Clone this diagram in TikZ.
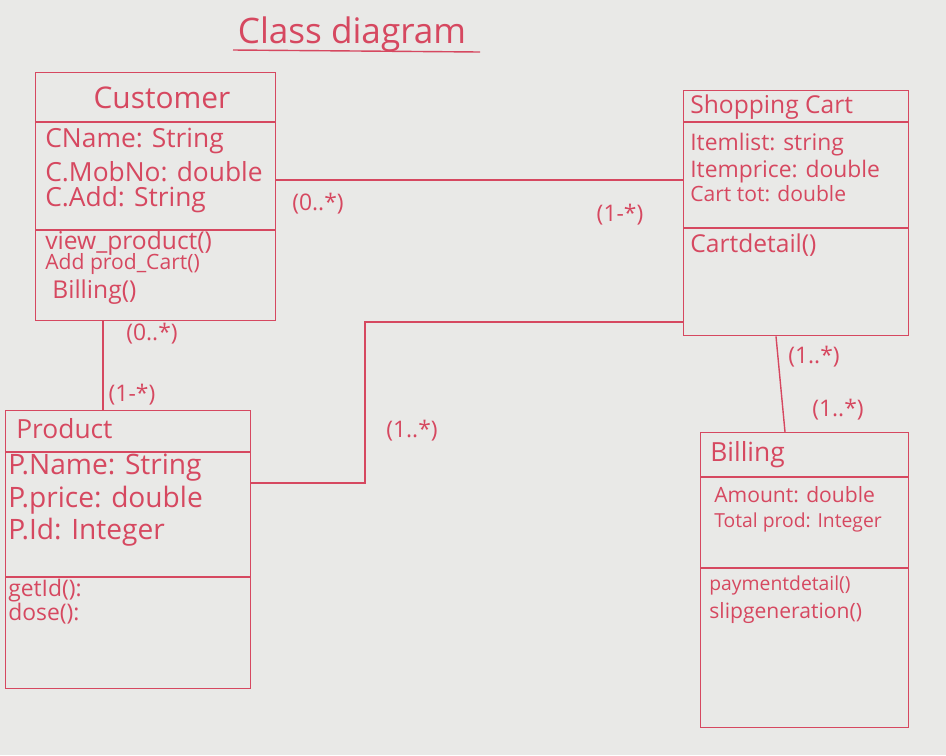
\documentclass[tikz,border=0pt]{standalone}
\usepackage{fontspec}
\setmainfont{Open Sans}
\definecolor{paper}{RGB}{233,233,231}
\definecolor{ink}{RGB}{214,72,96}
\begin{document}
\begin{tikzpicture}[x=0.02cm,y=-0.02cm,
  classbox/.style={draw=ink, line width=0.8pt, anchor=north west, inner sep=0},
  divider/.style={draw=ink, line width=0.8pt},
  wire/.style={draw=ink, line width=0.8pt},
  attr/.style={text=ink, anchor=west, inner sep=0, font=\fontsize{#1}{#1}\selectfont},
  attr/.default=13,
  mult/.style={text=ink, inner sep=0, font=\fontsize{13}{15}\selectfont}]
% paper
\fill[paper] (0,0) rectangle (946,755);
\useasboundingbox (0,0) rectangle (946,755);

% heading with underline
\node[text=ink, inner sep=0, font=\fontsize{20}{22}\selectfont] (heading) at (352,34) {Class diagram};
\coordinate (ulA) at (233,50);
\coordinate (ulB) at (480,52);
\draw[wire] (ulA) -- (ulB);

% ---- Customer ----
\node[classbox, minimum width=4.8cm, minimum height=4.96cm] (cust) at (35,72) {};
\draw[divider] (cust.west |- 0,122) -- (cust.east |- 0,122);
\draw[divider] (cust.west |- 0,230) -- (cust.east |- 0,230);
\node[text=ink, inner sep=0, font=\fontsize{17}{19}\selectfont] (custT) at (162,98) {Customer};
\node[attr=15] (c1) at (45,141) {CName: String};
\node[attr=15] (c2) at (45,172) {C.MobNo: double};
\node[attr=15] (c3) at (45,200) {C.Add: String};
\node[attr=14] (c4) at (45,243) {view\_product()};
\node[attr=12] (c5) at (45,264) {Add prod\_Cart()};
\node[attr=14] (c6) at (52,292) {Billing()};

% ---- Shopping Cart ----
\node[classbox, minimum width=4.5cm, minimum height=4.9cm] (cart) at (683,90) {};
\draw[divider] (cart.west |- 0,122) -- (cart.east |- 0,122);
\draw[divider] (cart.west |- 0,228) -- (cart.east |- 0,228);
\node[attr=14] (cartT) at (690,107) {Shopping Cart};
\node[attr=13] (s1) at (690,145) {Itemlist: string};
\node[attr=13] (s2) at (690,172) {Itemprice: double};
\node[attr=12] (s3) at (690,194) {Cart tot: double};
\node[attr=14] (s4) at (690,245) {Cartdetail()};

% ---- Product ----
\node[classbox, minimum width=4.9cm, minimum height=5.56cm] (prod) at (5,410) {};
\draw[divider] (prod.west |- 0,452) -- (prod.east |- 0,452);
\draw[divider] (prod.west |- 0,577) -- (prod.east |- 0,577);
\node[attr=15] (prodT) at (16,429) {Product};
\node[attr=16] (p1) at (8,468) {P.Name: String};
\node[attr=16] (p2) at (8,500) {P.price: double};
\node[attr=16] (p3) at (8,532) {P.Id: Integer};
\node[attr=13] (p4) at (8,591) {getId():};
\node[attr=13] (p5) at (8,614) {dose():};

% ---- Billing ----
\node[classbox, minimum width=4.16cm, minimum height=5.9cm] (bill) at (700,432) {};
\draw[divider] (bill.west |- 0,477) -- (bill.east |- 0,477);
\draw[divider] (bill.west |- 0,568) -- (bill.east |- 0,568);
\node[attr=15] (billT) at (710,455) {Billing};
\node[attr=12] (b1) at (714,495) {Amount: double};
\node[attr=11] (b2) at (714,522) {Total prod: Integer};
\node[attr=11] (b3) at (709,585) {paymentdetail()};
\node[attr=12] (b4) at (709,613) {slipgeneration()};

% ---- associations ----
\draw[wire] (cust.east |- 0,180) -- (cart.west |- 0,180);
\node[mult] (m1) at (318,204) {(0..*)};
\node[mult] (m2) at (620,215) {(1-*)};

\draw[wire] (cust.south -| 103,0) -- (prod.north -| 103,0);
\node[mult] (m3) at (152,334) {(0..*)};
\node[mult] (m4) at (132,395) {(1-*)};

\coordinate (pc1) at (365,483);
\coordinate (pc2) at (365,322);
\draw[wire] (prod.east |- pc1) -- (pc1) -- (pc2) -- (cart.west |- pc2);
\node[mult] (m5) at (412,431) {(1..*)};

\draw[wire] (cart.south -| 776,0) -- (bill.north -| 785,0);
\node[mult] (m6) at (814,357) {(1..*)};
\node[mult] (m7) at (838,410) {(1..*)};
\end{tikzpicture}
\end{document}
